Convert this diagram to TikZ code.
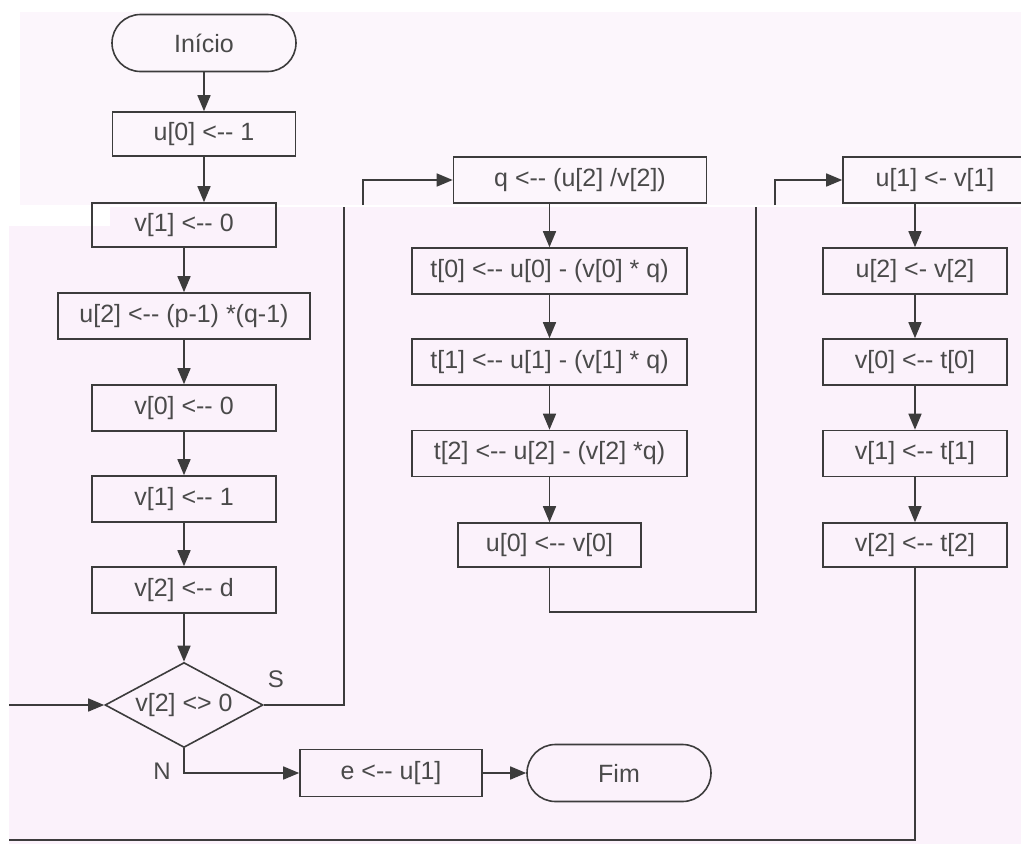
\documentclass[tikz,border=0pt]{standalone}
\usepackage{fontspec}
\setmainfont{Liberation Sans}
\usetikzlibrary{arrows.meta,shapes.geometric,shapes.misc}
\definecolor{ink}{HTML}{3C3C3C}
\definecolor{txt}{HTML}{4A4A4A}
\definecolor{paneltop}{HTML}{FCF6FC}
\definecolor{panellow}{HTML}{FBF2FB}
\tikzset{
  every node/.style={font=\fontsize{25}{30}\selectfont, text=txt},
  proc/.style={draw=ink, line width=1.6pt, rectangle, inner sep=0pt, minimum height=46pt},
  term/.style={draw=ink, line width=1.6pt, rounded rectangle, inner sep=0pt, minimum width=184pt, minimum height=57pt},
  dec/.style={draw=ink, line width=1.6pt, diamond, aspect=1.86, inner sep=0pt, minimum width=158pt, minimum height=85pt},
  lbl/.style={font=\fontsize{24}{28}\selectfont},
  conn/.style={draw=ink, line width=1.6pt},
  arr/.style={conn, -{Triangle[length=16pt,width=13pt]}}
}
\begin{document}
\begin{tikzpicture}[x=1pt,y=-1pt]
\useasboundingbox (0,0) rectangle (1021,844);
\clip (0,0) rectangle (1021,844);
% background panels
\fill[white] (0,0) rectangle (1021,844);
\fill[paneltop] (20,12) rectangle (1021,205);
\fill[panellow] (9,226) -- (110,226) -- (110,207) -- (1021,207) -- (1021,844) -- (9,844) -- cycle;

% left column
\node[term] (ini) at (204,43) {Início};
\node[proc, minimum width=183pt, minimum height=44pt] (u0) at (204,134) {u[0] <-{}- 1};
\node[proc, minimum width=184pt, minimum height=44pt] (v1) at (184,225) {v[1] <-{}- 0};
\node[proc, minimum width=252pt] (u2) at (184,316) {u[2] <-{}- (p-1) *(q-1)};
\node[proc, minimum width=184pt] (v0) at (184,408) {v[0] <-{}- 0};
\node[proc, minimum width=184pt] (v1b) at (184,499) {v[1] <-{}- 1};
\node[proc, minimum width=184pt] (v2) at (184,590) {v[2] <-{}- d};
\node[dec] (d) at (184,705) {v[2] <> 0};
\node[lbl] (S) at (276,679) {S};
\node[lbl] (N) at (162,771) {N};
\node[proc, minimum width=182pt, minimum height=47pt] (e) at (391,773) {e <-{}- u[1]};
\node[term] (fim) at (619,773) {Fim};

% middle column
\node[proc, minimum width=253pt] (q) at (580,180) {q <-{}- (u[2] /v[2])};
\node[proc, minimum width=275pt] (t0) at (549.5,271) {t[0] <-{}- u[0] - (v[0] * q)};
\node[proc, minimum width=275pt] (t1) at (549.5,362) {t[1] <-{}- u[1] - (v[1] * q)};
\node[proc, minimum width=275pt] (t2) at (549.5,453.5) {t[2] <-{}- u[2] - (v[2] *q)};
\node[proc, minimum width=183pt, minimum height=44pt] (uv0) at (549.5,545) {u[0] <-{}- v[0]};

% right column
\node[proc, minimum width=184pt] (u1) at (935,180) {u[1] <- v[1]};
\node[proc, minimum width=184pt] (uv2) at (915,271) {u[2] <- v[2]};
\node[proc, minimum width=184pt] (vt0) at (915,362) {v[0] <-{}- t[0]};
\node[proc, minimum width=184pt] (vt1) at (915,453.5) {v[1] <-{}- t[1]};
\node[proc, minimum width=184pt, minimum height=44pt] (vt2) at (915,545) {v[2] <-{}- t[2]};

% free ends of cut connectors
\coordinate (sEnd) at (344,207);
\coordinate (sStart) at (363,205);
\coordinate (mBot) at (756,612);
\coordinate (mEnd) at (756,207);
\coordinate (mStart) at (775,205);
\coordinate (bBot) at (9,840);
\coordinate (bIn) at (9,705);

% connectors
\draw[arr] (ini.south) -- (u0.north);
\draw[arr] (u0.south) -- (u0.south |- v1.north);
\draw[arr] (v1.south) -- (u2.north);
\draw[arr] (u2.south) -- (v0.north);
\draw[arr] (v0.south) -- (v1b.north);
\draw[arr] (v1b.south) -- (v2.north);
\draw[arr] (v2.south) -- (d.north);
\draw[conn] (d.east) -| (sEnd);
\draw[arr] (sStart) |- (q.west);
\draw[arr] (d.south) |- (e.west);
\draw[arr] (e.east) -- (fim.west);

\draw[arr] (t0.north |- q.south) -- (t0.north);
\draw[arr] (t0.south) -- (t1.north);
\draw[arr] (t1.south) -- (t2.north);
\draw[arr] (t2.south) -- (uv0.north);
\draw[conn] (uv0.south) |- (mBot) -- (mEnd);
\draw[arr] (mStart) |- (u1.west);

\draw[arr] (uv2.north |- u1.south) -- (uv2.north);
\draw[arr] (uv2.south) -- (vt0.north);
\draw[arr] (vt0.south) -- (vt1.north);
\draw[arr] (vt1.south) -- (vt2.north);
\draw[conn] (vt2.south) |- (bBot);
\draw[arr] (bIn) -- (d.west);
\end{tikzpicture}
\end{document}
